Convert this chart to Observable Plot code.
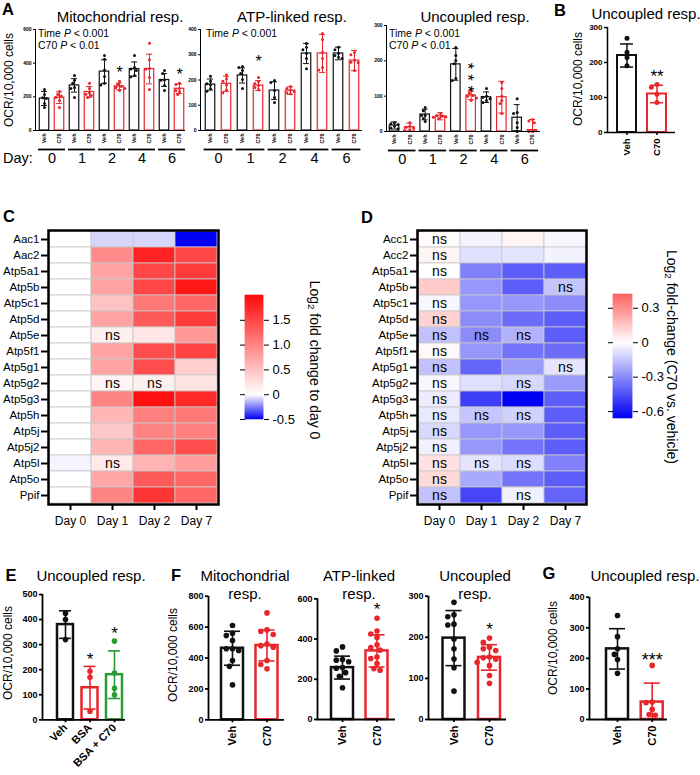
<!DOCTYPE html>
<html><head><meta charset="utf-8">
<script src="https://cdn.jsdelivr.net/npm/d3@7"></script>
<script src="https://cdn.jsdelivr.net/npm/@observablehq/plot@0.6"></script>
<style>
body{margin:0;background:#fff;}
#fig{position:relative;width:700px;height:775px;overflow:hidden;font-family:"Liberation Sans",Arial,Helvetica,sans-serif;color:#000;background:#fff;}
.t{position:absolute;white-space:nowrap;line-height:1;}
.p{position:absolute;}
sub{font-size:0.7em;vertical-align:-0.2em;line-height:0;}
</style></head><body><div id="fig"></div><script>
// ---------------- DATA ----------------
const RED = "#e8262b", BLACK = "#111111", GREEN = "#2b9b35";
// Panel A
const aDays = ["0", "1", "2", "4", "6"];
const aTreatments = ["Veh", "C70"];
const aMitoMean = [190, 195, 268, 229, 350, 262, 365, 365, 300, 248];
const aMitoSD   = [42, 35, 40, 32, 70, 20, 42, 88, 38, 28];
const aMitoPts  = [[244,214,195,190,161,137],[232,214,205,196,178,137],[327,298,280,256,250,196],[280,250,225,215,208,196],[446,423,360,321,280,270],[292,274,262,256,250,238],[446,375,365,357,327,320],[518,420,369,365,315,244],[357,339,300,298,268,238],[280,274,250,238,230,214]];
const aAtpMean = [182, 185, 218, 178, 158, 158, 305, 305, 305, 277];
const aAtpSD   = [22, 30, 30, 20, 35, 15, 40, 75, 25, 40];
const aAtpPts  = [[215,195,185,180,165,155],[220,205,195,180,160,150],[253,250,238,226,202,166],[210,194,186,178,170,162],[198,190,158,131,111],[174,166,160,154,150,146],[345,330,320,305,285,245],[384,360,310,285,250,240],[330,320,305,297,290,285],[309,300,277,270,269,238]];
const aUncMean = [17, 12, 48, 43, 190, 102, 97, 97, 39, 4];
const aUncSD   = [10, 12, 15, 10, 45, 12, 15, 45, 37, 30];
const aUncPts  = [[25,22,20,15,10,8],[25,15,12,10,5,3],[68,59,45,45,37,28],[51,45,43,42,40,37],[238,215,201,192,150,144],[116,108,102,100,95,88],[122,100,97,93,88,82],[139,122,100,88,79,51],[93,54,51,25,11,0],[34,30,25,0,0]];
// Panel B
const bGroups = ["Veh", "C70"];
const bMean = [220, 110];
const bSD = [33, 25];
const bPts = [[269, 229, 214, 191], [137, 129, 109, 86]];
// Panel C (log2 fold change to day 0)
const cGenes = ["Aac1","Aac2","Atp5a1","Atp5b","Atp5c1","Atp5d","Atp5e","Atp5f1","Atp5g1","Atp5g2","Atp5g3","Atp5h","Atp5j","Atp5j2","Atp5l","Atp5o","Ppif"];
const cDays = ["Day 0", "Day 1", "Day 2", "Day 7"];
const cDay0 = [0, 0, 0, 0, 0, 0, 0, 0, 0, 0, 0, 0, 0, 0, -0.02, 0, 0];
const cDay1 = [-0.08, 0.95, 0.75, 0.75, 0.5, 0.75, 0.12, 0.75, 0.75, 0.08, 1.0, 0.6, 0.45, 0.6, 0.18, 0.72, 1.0];
const cDay2 = [-0.08, 1.8, 1.5, 1.5, 1.1, 1.35, 0.2, 1.45, 1.45, 0.12, 1.95, 1.05, 1.0, 1.25, 0.62, 1.35, 1.65];
const cDay7 = [-0.5, 1.5, 1.6, 1.9, 1.25, 1.6, 0.85, 1.55, 0.4, 0.22, 1.75, 1.1, 1.05, 1.45, 0.8, 1.25, 1.25];
const cNsDay0 = [], cNsDay1 = ["Atp5e", "Atp5g2", "Atp5l"], cNsDay2 = ["Atp5g2"], cNsDay7 = [];
const cTicks = [-0.5, 0, 0.5, 1.0, 1.5];
// Panel D (log2 fold-change C70 vs vehicle)
const dGenes = ["Acc1","Acc2","Atp5a1","Atp5b","Atp5c1","Atp5d","Atp5e","Atp5f1","Atp5g1","Atp5g2","Atp5g3","Atp5h","Atp5j","Atp5j2","Atp5l","Atp5o","Ppif"];
const dDays = ["Day 0", "Day 1", "Day 2", "Day 7"];
const dDay0 = [0.01, 0.03, 0.0, 0.14, -0.02, 0.12, -0.16, 0.02, -0.16, -0.02, -0.05, -0.06, -0.1, -0.04, 0.08, 0.1, -0.16];
const dDay1 = [-0.03, -0.08, -0.33, -0.27, -0.27, -0.3, -0.3, -0.27, -0.4, -0.08, -0.5, -0.15, -0.27, -0.27, -0.07, -0.22, -0.48];
const dDay2 = [0.03, -0.07, -0.42, -0.42, -0.27, -0.38, -0.2, -0.36, -0.26, -0.1, -0.66, -0.12, -0.27, -0.36, -0.09, -0.36, -0.04];
const dDay7 = [-0.02, -0.03, -0.42, -0.15, -0.3, -0.42, -0.42, -0.38, -0.07, -0.26, -0.42, -0.42, -0.42, -0.42, -0.33, -0.42, -0.4];
const dNsDay0 = ["Acc1","Acc2","Atp5a1","Atp5c1","Atp5d","Atp5e","Atp5f1","Atp5g1","Atp5g2","Atp5g3","Atp5h","Atp5j","Atp5j2","Atp5l","Atp5o","Ppif"];
const dNsDay1 = ["Atp5e", "Atp5h", "Atp5l"];
const dNsDay2 = ["Atp5e", "Atp5g2", "Atp5h", "Atp5l", "Ppif"];
const dNsDay7 = ["Atp5b", "Atp5g1"];
const dTicks = [-0.6, -0.3, 0, 0.3];
// Panel E
const eGroups = ["Veh", "BSA", "BSA + C70"];
const eMean = [380, 128, 180];
const eSD = [55, 85, 95];
const ePts = [[425, 400, 320], [194, 170, 34], [314, 187, 126, 100]];
// Panel F
const fGroups = ["Veh", "C70"];
const fMitoMean = [463, 481], fMitoSD = [110, 100];
const fMitoPts = [[610,560,545,513,460,460,449,384,347,226],[692,582,573,552,490,480,470,384,358,330]];
const fAtpMean = [258, 341], fAtpSD = [57, 80];
const fAtpPts = [[361,341,298,295,287,258,255,233,215,158],[503,440,425,408,371,358,345,311,303,278,253,245]];
const fUncMean = [198, 151], fUncSD = [67, 31];
const fUncPts = [[285,255,250,232,230,196,172,147,126,69],[198,188,176,172,168,152,150,147,139,131,107,88]];
// Panel G
const gGroups = ["Veh", "C70"];
const gMean = [231, 57], gSD = [66, 62];
const gPts = [[340, 271, 231, 213, 196, 151], [177, 57, 55, 33, 16, 14]];

// ---------------- HELPERS ----------------
const FONT = '"Liberation Sans", Arial, Helvetica, sans-serif';
const STYLE = {background: "transparent", overflow: "visible", maxWidth: "none", fontFamily: FONT, fontSize: "10px", color: "black"};
const fig = document.getElementById("fig");
function place(el, left, top) {
  const d = document.createElement("div"); d.className = "p";
  d.style.left = left + "px"; d.style.top = top + "px";
  d.appendChild(el); fig.appendChild(d);
}
function txt(x, y, html, o = {}) {
  const d = document.createElement("div"); d.className = "t";
  d.innerHTML = html;
  d.style.left = x + "px"; d.style.top = y + "px";
  d.style.fontSize = (o.size || 15) + "px";
  if (o.bold) d.style.fontWeight = "bold";
  const tx = o.anchor === "start" ? "0" : "-50%";
  d.style.transform = `translate(${tx},-50%)` + (o.rot ? ` rotate(${o.rot}deg)` : "");
  fig.appendChild(d);
}
function spread(arr, pxY, r, pitch) {
  const order = arr.map((v, k) => k).sort((a, b) => arr[b] - arr[a]);
  const placed = [], out = new Array(arr.length).fill(0);
  const step = 2 * r + 0.6;
  for (const k of order) {
    const py = arr[k] * pxY; let off = 0;
    for (let j = 0; j < 20; j++) {
      const cand = j === 0 ? 0 : (j % 2 ? -1 : 1) * Math.ceil(j / 2) * step * 0.5;
      if (placed.every(p => Math.hypot(p.x - cand, p.y - py) >= 2 * r + 0.2)) { off = cand; break; }
    }
    placed.push({x: off, y: py}); out[k] = off / pitch;
  }
  return out;
}
function barPanel(c) {
  const n = c.means.length;
  const pitch = (c.lastC - c.firstC) / (n - 1);
  const lo = -(c.firstC - c.axisX) / pitch, hi = (n - 1) + (c.axisEnd - c.lastC) / pitch;
  const pxY = (c.frameBottom - c.frameTop) / (c.yDomain[1] - c.yDomain[0]);
  const bh = c.barW / 2 / pitch, ch = c.capW / 2 / pitch;
  const rows = c.means.map((m, i) => ({i, m, sd: c.sds[i], col: c.colors[i]}));
  const caps = rows.flatMap(d => [d.m + d.sd, d.m - d.sd].filter(v => v >= 0).map(v => ({i: d.i, v, col: d.col})));
  const dots = c.pts.flatMap((arr, i) => { const offs = spread(arr, pxY, c.r, pitch); return arr.map((v, k) => ({x: i + offs[k], v, col: c.colors[i]})); });
  const marks = [
    Plot.rect(rows, {x1: d => d.i - bh, x2: d => d.i + bh, y1: () => 0, y2: "m", fill: "white", stroke: "col", strokeWidth: c.sw}),
    Plot.ruleX(rows, {x: "i", y1: d => Math.max(0, d.m - d.sd), y2: d => d.m + d.sd, stroke: "col", strokeWidth: c.ew}),
    Plot.ruleY(caps, {y: "v", x1: d => d.i - ch, x2: d => d.i + ch, stroke: "col", strokeWidth: c.ew}),
    Plot.dot(dots, {x: "x", y: "v", r: c.r, fill: "col", stroke: "none"}),
    Plot.ruleX([lo], {stroke: "black", strokeWidth: c.axisW}),
    Plot.ruleY([0], {x1: () => lo, x2: () => hi, stroke: "black", strokeWidth: c.axisW}),
    Plot.axisY({ticks: c.yTicks, tickSize: c.yTickSize ?? 3, tickPadding: 2, fontSize: c.tickFont, fontWeight: "bold", strokeWidth: c.axisW, label: null}),
    Plot.axisX({ticks: d3.range(n), tickFormat: i => c.xLabels[i], tickRotate: c.xRotate, tickSize: c.xTickSize, tickPadding: c.xPad ?? 3, fontSize: c.xFont, fontWeight: "bold", strokeWidth: c.axisW, label: null})
  ];
  if (c.days) {
    marks.push(Plot.ruleY(c.days, {y: () => 0, x1: (d, g) => 2 * g - c.ulExt, x2: (d, g) => 2 * g + 1 + c.ulExt, dy: c.ulDy, stroke: "black", strokeWidth: 1.8}));
    marks.push(Plot.text(c.days, {x: (d, g) => 2 * g + 0.5, y: () => 0, text: d => d, dy: c.dayDy, fontSize: 14.5}));
  }
  for (const s of (c.stars || [])) {
    const top = Math.max(c.means[s.i] + c.sds[s.i], ...c.pts[s.i]);
    marks.push(Plot.text([s], {x: () => s.i, y: () => top, text: () => s.t, dx: s.dx || 0, dy: s.dy, rotate: s.rotate || 0, fontSize: s.size || 16, fill: "black"}));
  }
  const plot = Plot.plot({
    width: c.width, height: c.height,
    marginLeft: c.axisX - c.left, marginRight: c.left + c.width - c.axisEnd,
    marginTop: c.frameTop - c.top, marginBottom: c.top + c.height - c.frameBottom,
    x: {domain: [lo, hi]}, y: {domain: c.yDomain}, style: STYLE, marks
  });
  place(plot, c.left, c.top);
}
const interp = d3.piecewise(d3.interpolateRgb, ["#0000f5", "#ffffff", "#ff0a0a"]);
function heatmap(c) {
  const cells = c.genes.flatMap((g, gi) => c.days.map((d, di) => ({gene: g, day: d, v: c.values[di][gi]})));
  const ns = c.days.flatMap((d, di) => c.ns[di].map(g => ({gene: g, day: d})));
  const plot = Plot.plot({
    width: c.width, height: c.height,
    marginLeft: c.fl - c.left, marginRight: c.left + c.width - c.fr, marginTop: c.ft - c.top, marginBottom: c.top + c.height - c.fb,
    x: {domain: c.days, padding: 0}, y: {domain: c.genes, padding: 0},
    color: c.color, style: STYLE,
    marks: [
      Plot.cell(cells, {x: "day", y: "gene", fill: "v", stroke: "#c9c9c9", strokeWidth: 0.8, inset: 0}),
      Plot.text(ns, {x: "day", y: "gene", text: () => "ns", fontSize: 14}),
      Plot.frame({stroke: "black", strokeWidth: 2.5}),
      Plot.axisY({tickSize: 7, tickPadding: 2, fontSize: 11.5, strokeWidth: 2, label: null}),
      Plot.axisX({tickSize: 6, tickPadding: 6, fontSize: 12, strokeWidth: 2, label: null})
    ]
  });
  place(plot, c.left, c.top);
}
function colorbar(c) {
  const N = 124; const [a, b] = c.color.domain; const step = (b - a) / N;
  const samples = d3.range(N);
  const plot = Plot.plot({
    width: c.width, height: c.height,
    marginLeft: c.fl - c.left, marginRight: c.left + c.width - c.fr, marginTop: c.ft - c.top, marginBottom: c.top + c.height - c.fb,
    x: {domain: [0, 1], axis: null}, y: {domain: c.color.domain}, color: c.color, style: STYLE,
    marks: [
      Plot.rect(samples, {x1: () => 0, x2: () => 1, y1: k => a + k * step, y2: k => a + (k + 1) * step, fill: k => a + (k + 0.5) * step, stroke: k => a + (k + 0.5) * step, strokeWidth: 0.6}),
      Plot.axisY({anchor: "right", ticks: c.ticks, tickFormat: c.fmt, tickSize: 5, tickPadding: 4, fontSize: 13, label: null}),
      Plot.axisY({anchor: "left", ticks: c.ticks, tickFormat: () => "", tickSize: 5, label: null})
    ]
  });
  place(plot, c.left, c.top);
}

// ---------------- PANEL A ----------------
const aLabels = aDays.flatMap(() => aTreatments);
const aColors = aDays.flatMap(() => [BLACK, RED]);
const aCommon = {xLabels: aLabels, colors: aColors, days: aDays, barW: 9.5, capW: 6, sw: 1.2, ew: 1, axisW: 1, r: 1.5,
  tickFont: 5, yTickSize: 2, xFont: 5.5, xRotate: -90, xTickSize: 0, xPad: 3, ulExt: 0.4, ulDy: 19, dayDy: 28};
barPanel({...aCommon, left: 0, top: 0, width: 190, height: 175, axisX: 35, axisEnd: 185, firstC: 44, lastC: 179,
  frameTop: 29, frameBottom: 130, yDomain: [0, 600], yTicks: [0, 200, 400, 600],
  means: aMitoMean, sds: aMitoSD, pts: aMitoPts, stars: [{i: 5, t: "*", dy: -8}, {i: 9, t: "*", dy: -8}]});
barPanel({...aCommon, left: 175, top: 0, width: 195, height: 175, axisX: 200, axisEnd: 362, firstC: 210, lastC: 354,
  frameTop: 29, frameBottom: 130, yDomain: [0, 400], yTicks: [0, 100, 200, 300, 400],
  means: aAtpMean, sds: aAtpSD, pts: aAtpPts, stars: [{i: 3, t: "*", dy: -16}]});
barPanel({...aCommon, left: 360, top: 0, width: 190, height: 175, axisX: 386, axisEnd: 540, firstC: 394, lastC: 532,
  frameTop: 25, frameBottom: 131, yDomain: [0, 300], yTicks: [0, 100, 200, 300],
  means: aUncMean, sds: aUncSD, pts: aUncPts, stars: [{i: 5, t: "* * *", rotate: 90, dx: -4, dy: -13, size: 17}]});
txt(2, 9, "A", {anchor: "start", size: 16.5, bold: true});
txt(120, 16, "Mitochondrial resp.", {size: 15});
txt(292, 16, "ATP-linked resp.", {size: 15});
txt(475, 16, "Uncoupled resp.", {size: 15});
txt(38, 33, "Time <i>P</i> &lt; 0.001", {anchor: "start", size: 10.5});
txt(38, 45, "C70 <i>P</i> &lt; 0.01", {anchor: "start", size: 10.5});
txt(206, 33, "Time <i>P</i> &lt; 0.001", {anchor: "start", size: 10.5});
txt(389, 33, "Time <i>P</i> &lt; 0.001", {anchor: "start", size: 10.5});
txt(389, 45, "C70 <i>P</i> &lt; 0.01", {anchor: "start", size: 10.5});
txt(9, 80, "OCR/10,000 cells", {size: 12, rot: -90});
txt(3, 158, "Day:", {anchor: "start", size: 14.5});

// ---------------- PANEL B ----------------
barPanel({left: 580, top: 0, width: 105, height: 165, axisX: 607, axisEnd: 675, firstC: 626.5, lastC: 656.5,
  frameTop: 27, frameBottom: 132, yDomain: [0, 300], yTicks: [0, 100, 200, 300],
  means: bMean, sds: bSD, pts: bPts, xLabels: bGroups, colors: [BLACK, RED],
  barW: 19, capW: 13, sw: 2, ew: 1.5, axisW: 1.5, r: 2.5, tickFont: 8, xFont: 9.5, xRotate: -90, xTickSize: 3,
  stars: [{i: 1, t: "**", dy: -8, size: 17}]});
txt(560, 10, "B", {size: 16.5, bold: true});
txt(646, 13, "Uncoupled resp.", {size: 15});
txt(578, 79, "OCR/10,000 cells", {size: 12, rot: -90});

// ---------------- PANEL C ----------------
const cColor = {type: "diverging", domain: [-0.5, 2], pivot: 0, symmetric: false, interpolate: interp};
heatmap({left: 0, top: 220, width: 230, height: 314, fl: 48, fr: 218, ft: 230, fb: 504,
  genes: cGenes, days: cDays, values: [cDay0, cDay1, cDay2, cDay7], ns: [cNsDay0, cNsDay1, cNsDay2, cNsDay7], color: cColor});
colorbar({left: 230, top: 285, width: 70, height: 145, fl: 245, fr: 263, ft: 295, fb: 419, color: cColor, ticks: cTicks,
  fmt: d => d === 0 ? "0" : d.toFixed(1)});
txt(9, 216, "C", {size: 16.5, bold: true});
txt(315, 360, "Log<sub>2</sub> fold change to day 0", {size: 14, rot: 90});

// ---------------- PANEL D ----------------
const dColor = {type: "diverging", domain: [-0.66, 0.42], pivot: 0, symmetric: true, interpolate: interp};
heatmap({left: 340, top: 220, width: 260, height: 314, fl: 417, fr: 586, ft: 230, fb: 504,
  genes: dGenes, days: dDays, values: [dDay0, dDay1, dDay2, dDay7], ns: [dNsDay0, dNsDay1, dNsDay2, dNsDay7], color: dColor});
colorbar({left: 600, top: 284, width: 70, height: 145, fl: 613, fr: 632, ft: 294, fb: 418, color: dColor, ticks: dTicks,
  fmt: d => String(d)});
txt(367, 217, "D", {size: 16.5, bold: true});
txt(672, 357, "Log<sub>2</sub> fold-change (C70 vs. vehicle)", {size: 14, rot: 90});

// ---------------- PANEL E ----------------
const efgCommon = {sw: 2.5, ew: 1.6, axisW: 1.8, r: 2.8, tickFont: 9, xFont: 11, xTickSize: 3, xPad: 3};
barPanel({...efgCommon, left: 0, top: 580, width: 135, height: 195, axisX: 42, axisEnd: 125, firstC: 65, lastC: 114,
  frameTop: 594, frameBottom: 719.3, yDomain: [0, 500], yTicks: [0, 100, 200, 300, 400, 500],
  means: eMean, sds: eSD, pts: ePts, xLabels: eGroups, colors: [BLACK, RED, GREEN], barW: 16, capW: 12, xRotate: -45,
  stars: [{i: 1, t: "*", dy: -7, size: 17}, {i: 2, t: "*", dy: -8, size: 17}]});
txt(11, 575, "E", {size: 16.5, bold: true});
txt(91, 575, "Uncoupled resp.", {size: 15});
txt(8, 653, "OCR/10,000 cells", {size: 12, rot: -90});

// ---------------- PANEL F ----------------
barPanel({...efgCommon, left: 165, top: 580, width: 125, height: 195, axisX: 208, axisEnd: 284, firstC: 232, lastC: 266.5,
  frameTop: 595.7, frameBottom: 719.3, yDomain: [0, 800], yTicks: [0, 200, 400, 600, 800],
  means: fMitoMean, sds: fMitoSD, pts: fMitoPts, xLabels: fGroups, colors: [BLACK, RED], barW: 22, capW: 16, xRotate: -90});
barPanel({...efgCommon, left: 285, top: 580, width: 115, height: 195, axisX: 317, axisEnd: 395, firstC: 342, lastC: 376.5,
  frameTop: 598.3, frameBottom: 719, yDomain: [0, 600], yTicks: [0, 200, 400, 600],
  means: fAtpMean, sds: fAtpSD, pts: fAtpPts, xLabels: fGroups, colors: [BLACK, RED], barW: 22, capW: 16, xRotate: -90,
  stars: [{i: 1, t: "*", dy: -9, size: 17}]});
barPanel({...efgCommon, left: 395, top: 580, width: 115, height: 195, axisX: 428, axisEnd: 506, firstC: 453.5, lastC: 489,
  frameTop: 595.7, frameBottom: 719, yDomain: [0, 300], yTicks: [0, 100, 200, 300],
  means: fUncMean, sds: fUncSD, pts: fUncPts, xLabels: fGroups, colors: [BLACK, RED], barW: 22, capW: 16, xRotate: -90,
  stars: [{i: 1, t: "*", dy: -9, size: 17}]});
txt(176, 575, "F", {size: 16.5, bold: true});
txt(245, 575, "Mitochondrial", {size: 15}); txt(245, 593, "resp.", {size: 15});
txt(359, 575, "ATP-linked", {size: 15}); txt(359, 593, "resp.", {size: 15});
txt(475, 575, "Uncoupled", {size: 15}); txt(475, 593, "resp.", {size: 15});
txt(173, 655, "OCR/10,000 cells", {size: 12, rot: -90});

// ---------------- PANEL G ----------------
barPanel({...efgCommon, left: 555, top: 580, width: 120, height: 195, axisX: 589, axisEnd: 667, firstC: 617, lastC: 651.7,
  frameTop: 596.7, frameBottom: 719, yDomain: [0, 400], yTicks: [0, 100, 200, 300, 400],
  means: gMean, sds: gSD, pts: gPts, xLabels: gGroups, colors: [BLACK, RED], barW: 22, capW: 16, xRotate: -90,
  stars: [{i: 1, t: "***", dy: -5, size: 18}]});
txt(549, 573, "G", {size: 16.5, bold: true});
txt(645, 575, "Uncoupled resp.", {size: 15});
txt(553, 648, "OCR/10,000 cells", {size: 12, rot: -90});
</script></body></html>
